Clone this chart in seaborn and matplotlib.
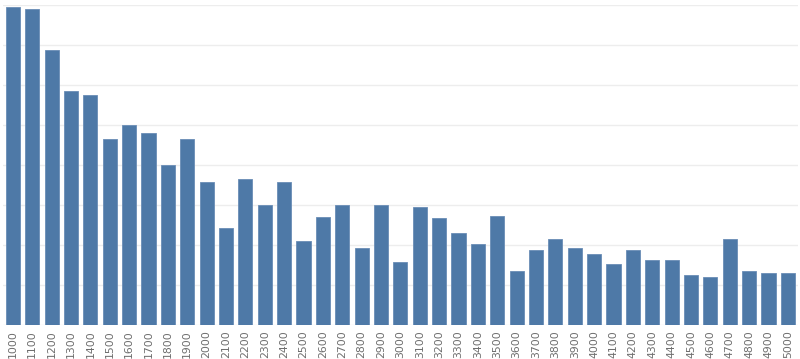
import matplotlib
matplotlib.use("Agg")
import matplotlib.pyplot as plt
import seaborn as sns
import pandas as pd
from matplotlib.ticker import MultipleLocator, FixedLocator

categories = [str(v) for v in range(1000, 5001, 100)]
values = [796, 790, 689, 585, 575, 466, 500, 481, 400, 466,
          358, 243, 366, 301, 358, 211, 271, 301, 192, 301,
          158, 295, 267, 230, 202, 272, 136, 187, 216, 192,
          178, 153, 187, 163, 163, 126, 121, 216, 136, 131,
          131]

df = pd.DataFrame({"bin": categories, "count": values})

sns.set_style("white")
fig = plt.figure(figsize=(8.0, 3.59), dpi=100)
ax = fig.add_axes([0.004, 0.0947, 0.993, 0.891])

sns.barplot(data=df, x="bin", y="count", color="#4e79a7", saturation=1,
            width=0.73, edgecolor="#6a8db6", linewidth=0.6, ax=ax, zorder=3)

ax.set_ylim(0, 800)
ax.set_xlim(-0.5, len(categories) - 0.5)
ax.yaxis.set_major_locator(MultipleLocator(100))
ax.grid(axis="y", color="#ededed", linewidth=1.0, zorder=0)
ax.set_axisbelow(True)
ax.set_yticklabels([])
ax.tick_params(axis="y", left=False, length=0)
ax.set_xlabel("")
ax.set_ylabel("")
for s in ax.spines.values():
    s.set_visible(False)

ax.tick_params(axis="x", which="major", length=0, pad=3.5, labelsize=7.8,
               labelcolor="#6e6e6e", labelrotation=90)
ax.xaxis.set_minor_locator(FixedLocator([i + 0.5 for i in range(-1, len(categories))]))
ax.tick_params(axis="x", which="minor", length=3, width=0.8, color="#e0e0e0")

fig.savefig("out.png", dpi=100)
